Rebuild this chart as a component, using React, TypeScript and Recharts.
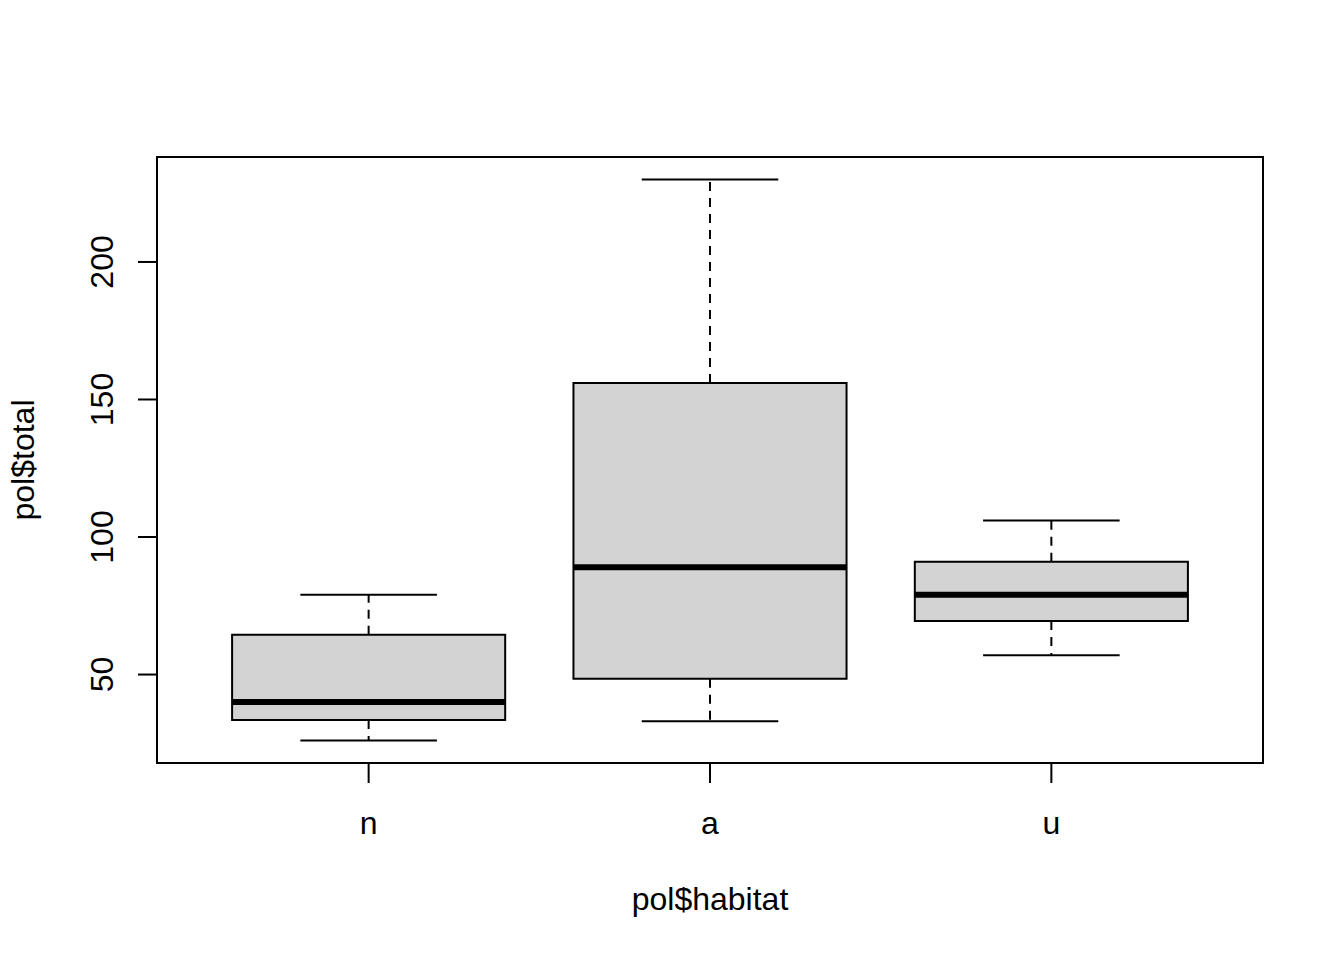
import React from 'react';
import {
  ComposedChart,
  XAxis,
  YAxis,
  Scatter,
  ReferenceArea,
  ReferenceLine,
  Label,
} from 'recharts';

// boxplot of pol$total by pol$habitat
const categories = ['n', 'a', 'u'];
const positions = [1, 2, 3];
const lowerWhisker = [26, 33, 57];
const lowerHinge = [33.5, 48.5, 69.5];
const medians = [40, 89, 79];
const upperHinge = [64.5, 156, 91];
const upperWhisker = [79, 230, 106];
const yTicks = [50, 100, 150, 200];

// R extends the ranges by 4%
const X_DOMAIN: [number, number] = [0.38, 3.62];
const Y_DOMAIN: [number, number] = [17.84, 238.16];

const BOX_HALF = 0.4;
const CAP_HALF = 0.2;
const FONT = '"Liberation Sans", Arial, sans-serif';

const rows = categories.map((c, i) => ({
  name: c,
  pos: positions[i],
  low: lowerWhisker[i],
  q1: lowerHinge[i],
  median: medians[i],
  q3: upperHinge[i],
  high: upperWhisker[i],
}));

function XTick(props: any) {
  const { x, y, payload } = props;
  const i = positions.indexOf(payload.value);
  return (
    <text x={x} y={y + 51} textAnchor="middle" fontSize={32} fontFamily={FONT} fill="#000">
      {categories[i]}
    </text>
  );
}

function YTick(props: any) {
  const { x, y, payload } = props;
  const bx = x - 25;
  return (
    <text
      x={bx}
      y={y}
      textAnchor="middle"
      transform={`rotate(-90, ${bx}, ${y})`}
      fontSize={32}
      fontFamily={FONT}
      fill="#000"
    >
      {payload.value}
    </text>
  );
}

export default function App() {
  return (
    <div style={{ position: 'absolute', left: 0, top: 0, background: '#fff' }}>
      <ComposedChart
        width={1344}
        height={960}
        data={rows}
        margin={{ top: 157, right: 81, bottom: 0, left: 0 }}
      >
        <XAxis
          dataKey="pos"
          type="number"
          domain={X_DOMAIN}
          allowDataOverflow
          ticks={positions}
          height={197}
          axisLine={false}
          tickLine={{ stroke: '#000', strokeWidth: 2 }}
          tickSize={20}
          tickMargin={0}
          tick={<XTick />}
          interval={0}
        >
          <Label
            content={(p: any) => {
              const vb = p.viewBox;
              return (
                <text
                  x={vb.x + vb.width / 2}
                  y={vb.y + 147}
                  textAnchor="middle"
                  fontSize={32}
                  fontFamily={FONT}
                  fill="#000"
                >
                  pol$habitat
                </text>
              );
            }}
          />
        </XAxis>
        <YAxis
          type="number"
          domain={Y_DOMAIN}
          allowDataOverflow
          ticks={yTicks}
          width={157}
          axisLine={false}
          tickLine={{ stroke: '#000', strokeWidth: 2 }}
          tickSize={19}
          tickMargin={0}
          tick={<YTick />}
          interval={0}
        >
          <Label
            content={(p: any) => {
              const vb = p.viewBox;
              const cy = vb.y + vb.height / 2;
              return (
                <text
                  x={34}
                  y={cy}
                  textAnchor="middle"
                  transform={`rotate(-90, 34, ${cy})`}
                  fontSize={32}
                  fontFamily={FONT}
                  fill="#000"
                >
                  pol$total
                </text>
              );
            }}
          />
        </YAxis>

        <Scatter dataKey="median" isAnimationActive={false} shape={() => <g />} />

        {rows.map((r) => (
          <ReferenceArea
            key={`box-${r.name}`}
            x1={r.pos - BOX_HALF}
            x2={r.pos + BOX_HALF}
            y1={r.q1}
            y2={r.q3}
            fill="#d3d3d3"
            fillOpacity={1}
            stroke="#000"
            strokeWidth={2}
          />
        ))}
        {rows.map((r) => (
          <ReferenceLine
            key={`wu-${r.name}`}
            segment={[{ x: r.pos, y: r.q3 }, { x: r.pos, y: r.high }]}
            stroke="#000"
            strokeWidth={2}
            strokeDasharray="9 7"
          />
        ))}
        {rows.map((r) => (
          <ReferenceLine
            key={`wl-${r.name}`}
            segment={[{ x: r.pos, y: r.q1 }, { x: r.pos, y: r.low }]}
            stroke="#000"
            strokeWidth={2}
            strokeDasharray="9 7"
          />
        ))}
        {rows.map((r) => (
          <ReferenceLine
            key={`cu-${r.name}`}
            segment={[{ x: r.pos - CAP_HALF, y: r.high }, { x: r.pos + CAP_HALF, y: r.high }]}
            stroke="#000"
            strokeWidth={2}
          />
        ))}
        {rows.map((r) => (
          <ReferenceLine
            key={`cl-${r.name}`}
            segment={[{ x: r.pos - CAP_HALF, y: r.low }, { x: r.pos + CAP_HALF, y: r.low }]}
            stroke="#000"
            strokeWidth={2}
          />
        ))}
        {rows.map((r) => (
          <ReferenceLine
            key={`med-${r.name}`}
            segment={[{ x: r.pos - BOX_HALF, y: r.median }, { x: r.pos + BOX_HALF, y: r.median }]}
            stroke="#000"
            strokeWidth={6}
          />
        ))}

        <ReferenceArea
          x1={X_DOMAIN[0]}
          x2={X_DOMAIN[1]}
          y1={Y_DOMAIN[0]}
          y2={Y_DOMAIN[1]}
          fill="none"
          stroke="#000"
          strokeWidth={2}
        />
      </ComposedChart>
    </div>
  );
}
